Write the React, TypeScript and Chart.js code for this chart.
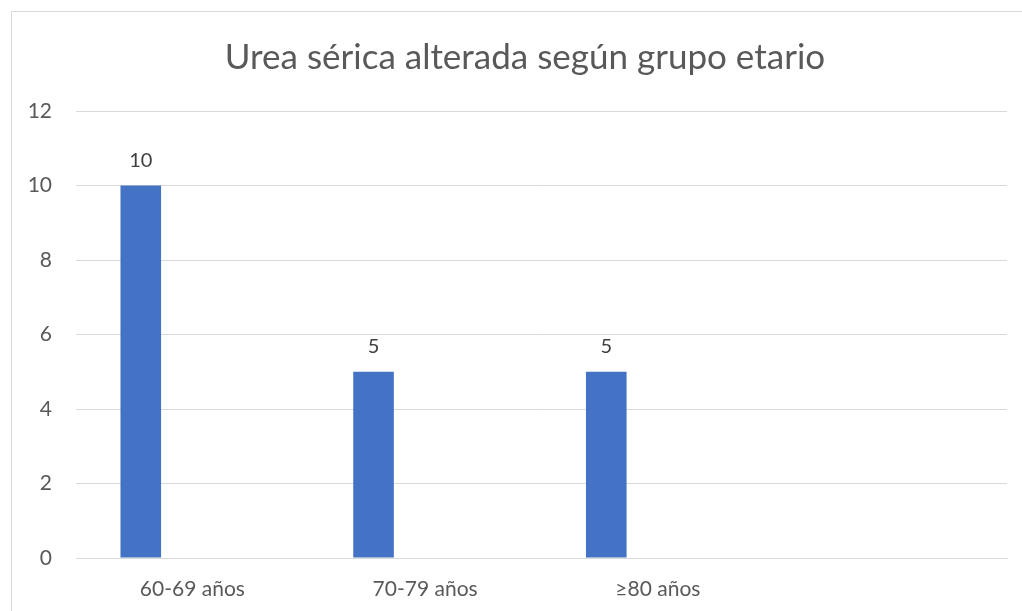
import React, { useEffect, useRef } from "react";
import { Chart, registerables } from "chart.js";

Chart.register(...registerables);

const categories = ["60-69 años", "70-79 años", "≥80 años", ""];
const serie1 = [10, 5, 5, null];
const serie2 = [null, null, null, null];
const serie3 = [null, null, null, null];
const yMin = 0;
const yMax = 12;
const yStep = 2;
const title = "Urea sérica alterada según grupo etario";

const TEXT = "#595959";
const GRID = "#d9d9d9";
const BAR = "#4472C4";

export default function App() {
  const ref = useRef<HTMLCanvasElement | null>(null);
  useEffect(() => {
    if (!ref.current) return;
    const labelPlugin = {
      id: "valueLabels",
      afterDatasetsDraw(chart: any) {
        const ctx = chart.ctx;
        const meta = chart.getDatasetMeta(0);
        ctx.save();
        ctx.font = "20px Lato";
        ctx.fillStyle = "#404040";
        ctx.textAlign = "center";
        ctx.textBaseline = "bottom";
        meta.data.forEach((el: any, i: number) => {
          const v = serie1[i];
          if (v === null || v === undefined) return;
          ctx.fillText(String(v), el.x, el.y - 15);
        });
        ctx.restore();
      },
    };
    const titlePlugin = {
      id: "centeredTitle",
      afterDraw(chart: any) {
        const ctx = chart.ctx;
        ctx.save();
        ctx.font = "400 35px Lato";
        ctx.fillStyle = TEXT;
        ctx.textAlign = "center";
        ctx.textBaseline = "middle";
        ctx.fillText(title, chart.width / 2, 46);
        ctx.restore();
      },
    };
    const chart = new Chart(ref.current, {
      type: "bar",
      data: {
        labels: categories,
        datasets: [
          { label: "Serie 1", data: serie1, backgroundColor: BAR, categoryPercentage: 0.665, barPercentage: 0.787 },
          { label: "Serie 2", data: serie2, backgroundColor: "#ED7D31", categoryPercentage: 0.665, barPercentage: 0.787 },
          { label: "Serie 3", data: serie3, backgroundColor: "#A5A5A5", categoryPercentage: 0.665, barPercentage: 0.787 },
        ],
      },
      options: {
        animation: false,
        responsive: false,
        maintainAspectRatio: false,
        layout: { padding: { left: 0, right: 31, top: 99, bottom: 0 } },
        plugins: {
          legend: { display: false },
          tooltip: { enabled: false },
          title: { display: false },
        },
        scales: {
          x: {
            grid: { display: false, drawTicks: false },
            border: { display: true, color: GRID, width: 1 },
            ticks: { color: TEXT, font: { family: "Lato", size: 21 }, padding: 19, maxRotation: 0, autoSkip: false },
            afterFit: (s: any) => { s.height = 75; },
          },
          y: {
            min: yMin,
            max: yMax,
            ticks: { stepSize: yStep, color: TEXT, font: { family: "Lato", size: 21 }, padding: 24 },
            grid: { color: GRID, drawTicks: false, lineWidth: 1 },
            border: { display: false },
            afterFit: (s: any) => { s.width = 64; },
          },
        },
      },
      plugins: [labelPlugin, titlePlugin],
    });
    return () => chart.destroy();
  }, []);
  return (
    <div
      style={{
        position: "fixed",
        left: 11,
        top: 11,
        width: 1040,
        height: 640,
        borderLeft: "1px solid #d9d9d9",
        borderTop: "1px solid #d9d9d9",
        overflow: "hidden",
        background: "#fff",
      }}
    >
      <canvas ref={ref} width={1026} height={621} style={{ display: "block" }} />
    </div>
  );
}
